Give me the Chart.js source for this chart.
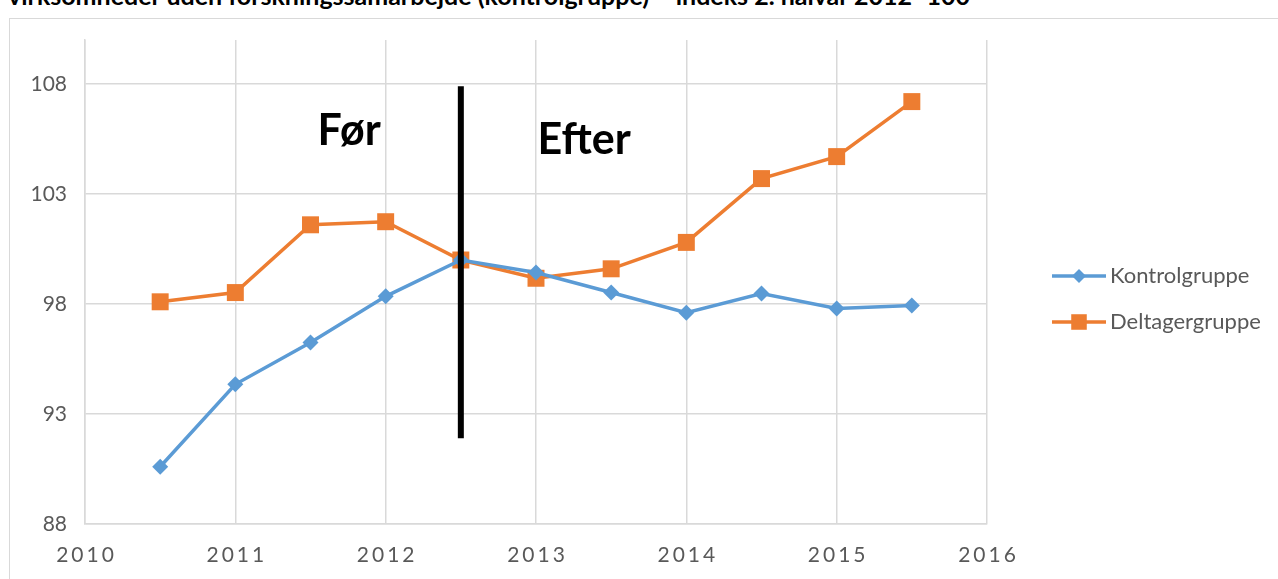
<!DOCTYPE html>
<html lang="da">
<head>
<meta charset="UTF-8">
<title>Kontrolgruppe og deltagergruppe</title>
<script src="https://cdn.jsdelivr.net/npm/chart.js"></script>
<style>
  html, body { margin: 0; padding: 0; background: #fff; overflow: hidden; }
  body { width: 1278px; height: 579px; position: relative; font-family: Lato, "Open Sans", sans-serif; }
  #title { position: absolute; left: 8px; top: -20px; font-weight: bold; font-size: 25px; line-height: 30px; color: #000; white-space: nowrap; }
  #frame { position: absolute; left: 9px; top: 18px; width: 1300px; height: 600px; border: 1px solid #d9d9d9; }
  #chart-wrap { position: absolute; left: 0; top: 0; width: 1278px; height: 579px; }
</style>
</head>
<body>
  <div id="title">virksomheder uden forskningssamarbejde (kontrolgruppe) – indeks 2. halvår 2012=100</div>
  <div id="frame"></div>
  <div id="chart-wrap"><canvas id="myChart" width="1278" height="579"></canvas></div>

<script>
  // half-year periods and index values (2. halvår 2012 = 100)
  const periods = [2010.5, 2011, 2011.5, 2012, 2012.5, 2013, 2013.5, 2014, 2014.5, 2015, 2015.5];
  const kontrol = [90.6, 94.35, 96.25, 98.35, 100, 99.43, 98.52, 97.6, 98.48, 97.8, 97.93];
  const deltager = [98.1, 98.52, 101.6, 101.74, 100, 99.17, 99.6, 100.8, 103.7, 104.7, 107.2];

  const xTicks = [2010, 2011, 2012, 2013, 2014, 2015, 2016];
  const yTicks = [88, 93, 98, 103, 108];

  // "Før" / "Efter" labels (baseline position) and the dividing line
  const notes = ['Før', 'Efter'];
  const noteX = [2011.757, 2013.32];
  const noteY = [105.23, 104.83];
  const divider = { x: 2012.5, from: 91.9, to: 107.9 };

  const blue = '#5B9BD5';
  const orange = '#ED7D31';
  const grey = '#595959';
  const gridColor = '#d9d9d9';
  const font = 'Lato, "Open Sans", sans-serif';

  const toPoints = vals => vals.map((v, i) => ({ x: periods[i], y: v }));

  const extras = {
    id: 'extras',
    afterDatasetsDraw(chart) {
      const { ctx, scales: { x, y } } = chart;
      ctx.save();
      // vertical divider
      ctx.strokeStyle = '#000';
      ctx.lineWidth = 6;
      ctx.beginPath();
      ctx.moveTo(x.getPixelForValue(divider.x), y.getPixelForValue(divider.to));
      ctx.lineTo(x.getPixelForValue(divider.x), y.getPixelForValue(divider.from));
      ctx.stroke();
      // Før / Efter
      ctx.fillStyle = '#000';
      ctx.font = 'bold 43px ' + font;
      ctx.textAlign = 'center';
      ctx.textBaseline = 'alphabetic';
      notes.forEach((t, i) => {
        ctx.fillText(t, x.getPixelForValue(noteX[i]), y.getPixelForValue(noteY[i]));
      });
      ctx.restore();
    },
    afterDraw(chart) {
      const { ctx, scales: { x } } = chart;
      ctx.save();
      // x tick labels, spaced like the original
      ctx.fillStyle = grey;
      ctx.font = '21px ' + font;
      ctx.letterSpacing = '3px';
      ctx.textAlign = 'center';
      ctx.textBaseline = 'middle';
      xTicks.forEach(v => ctx.fillText(String(v), x.getPixelForValue(v) + 1.5, 555));
      ctx.letterSpacing = '0px';

      // legend on the right
      const rows = [276, 322];
      chart.data.datasets.forEach((ds, i) => {
        const yy = rows[i];
        ctx.strokeStyle = ds.borderColor;
        ctx.lineWidth = 3.5;
        ctx.beginPath();
        ctx.moveTo(1052, yy);
        ctx.lineTo(1106, yy);
        ctx.stroke();
        ctx.fillStyle = ds.backgroundColor;
        Chart.helpers.drawPoint(ctx, {
          pointStyle: ds.pointStyle,
          radius: ds.pointStyle === 'rect' ? 11 : 7,
          borderWidth: 0
        }, 1079, yy);
        ctx.fillStyle = grey;
        ctx.font = '22px ' + font;
        ctx.textAlign = 'left';
        ctx.textBaseline = 'middle';
        ctx.fillText(ds.label, 1110, yy);
      });
      ctx.restore();
    }
  };

  const ctx = document.getElementById('myChart').getContext('2d');
  new Chart(ctx, {
    type: 'line',
    data: {
      datasets: [
        {
          label: 'Kontrolgruppe',
          data: toPoints(kontrol),
          borderColor: blue,
          backgroundColor: blue,
          borderWidth: 3.5,
          pointStyle: 'rectRot',
          pointRadius: 8,
          pointBorderWidth: 0,
          tension: 0
        },
        {
          label: 'Deltagergruppe',
          data: toPoints(deltager),
          borderColor: orange,
          backgroundColor: orange,
          borderWidth: 3.5,
          pointStyle: 'rect',
          pointRadius: 12,
          pointBorderWidth: 0,
          tension: 0
        }
      ]
    },
    options: {
      responsive: false,
      animation: false,
      layout: { padding: { top: 40, right: 291, left: 0, bottom: 0 } },
      plugins: {
        legend: { display: false },
        tooltip: { enabled: false }
      },
      scales: {
        x: {
          type: 'linear',
          min: 2010,
          max: 2016,
          afterBuildTicks: s => { s.ticks = xTicks.map(v => ({ value: v })); },
          ticks: { display: false },
          grid: { color: gridColor, lineWidth: 1.5, drawTicks: false },
          border: { color: gridColor, width: 1.5 },
          afterFit: s => { s.height = 55; }
        },
        y: {
          min: 88,
          max: 110,
          afterBuildTicks: s => { s.ticks = yTicks.map(v => ({ value: v })); },
          ticks: { color: grey, font: { size: 21, family: font }, padding: 18 },
          grid: { color: gridColor, lineWidth: 1.5, drawTicks: false },
          border: { color: gridColor, width: 1.5 },
          afterFit: s => { s.width = 85; }
        }
      }
    },
    plugins: [extras]
  });
</script>
</body>
</html>
